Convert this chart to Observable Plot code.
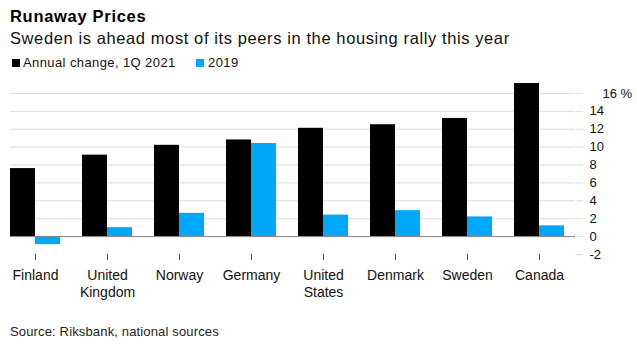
<!DOCTYPE html>
<html>
<head>
<meta charset="utf-8">
<script src="https://cdn.jsdelivr.net/npm/d3@7"></script>
<script src="https://cdn.jsdelivr.net/npm/@observablehq/plot@0.6"></script>
<style>
  html, body { margin: 0; padding: 0; background: #fff; }
  #wrap { position: relative; width: 637px; height: 349px; font-family: "Liberation Sans", Arial, sans-serif; color: #111; overflow: hidden; }
  .abs { position: absolute; white-space: nowrap; }
  #title { left: 10px; top: 8px; font-size: 16.5px; line-height: 16.5px; font-weight: bold; letter-spacing: 0.7px; color: #000; }
  #subtitle { left: 10px; top: 30px; font-size: 16.5px; line-height: 16.5px; letter-spacing: 0.6px; color: #111; }
  .sw { position: absolute; width: 8px; height: 8px; top: 59px; }
  .lt { font-size: 13px; line-height: 13px; top: 56px; letter-spacing: 0.4px; color: #111; }
  #source { left: 10px; top: 325px; font-size: 13px; line-height: 13px; letter-spacing: 0.15px; color: #222; }
  #chart { position: absolute; left: 0; top: 70px; }
</style>
</head>
<body>
<div id="wrap">
  <div id="title" class="abs">Runaway Prices</div>
  <div id="subtitle" class="abs">Sweden is ahead most of its peers in the housing rally this year</div>
  <div class="sw" style="left:12px;background:#000"></div>
  <div class="abs lt" style="left:23px">Annual change, 1Q 2021</div>
  <div class="sw" style="left:196px;background:#00a8f7"></div>
  <div class="abs lt" style="left:208px">2019</div>
  <div id="chart"></div>
  <div id="source" class="abs">Source: Riksbank, national sources</div>
</div>
<script>
const countries = ["Finland", "United Kingdom", "Norway", "Germany", "United States", "Denmark", "Sweden", "Canada"];
const countryLabels = ["Finland", "United\nKingdom", "Norway", "Germany", "United\nStates", "Denmark", "Sweden", "Canada"];
const annualChange = [7.6, 9.1, 10.2, 10.8, 12.1, 12.5, 13.2, 17.1];
const change2019 = [-0.9, 1.0, 2.6, 10.4, 2.4, 2.9, 2.2, 1.2];
const seriesNames = ["Annual change, 1Q 2021", "2019"];
const seriesColors = ["#000000", "#00a8f7"];
const yTicks = [-2, 0, 2, 4, 6, 8, 10, 12, 14, 16];
const gridValues = [2, 4, 6, 8, 10, 12, 14, 16];
const topTick = 16;

const W = 637, H = 240;
const mL = 10, mR = 62, mT = 5, mB = 56;

const xOpts = {type: "band", domain: countries, paddingInner: 0.311, paddingOuter: 0.048, align: 0};
const xs = Plot.scale({x: {...xOpts, range: [mL, W - mR]}});
const half = xs.bandwidth / 2;

const rows = countries.map((c, i) => ({country: c, label: countryLabels[i], a: annualChange[i], b: change2019[i]}));
const labelOf = new Map(rows.map(r => [r.country, r.label]));

const chart = Plot.plot({
  width: W, height: H,
  marginLeft: mL, marginRight: mR, marginTop: mT, marginBottom: mB,
  style: {fontFamily: "Liberation Sans, Arial, sans-serif", fontSize: "13px", color: "#111", background: "#fff"},
  x: xOpts,
  y: {domain: [-2, 18]},
  marks: [
    Plot.ruleY(gridValues, {stroke: "#dcdcdc", strokeWidth: 1}),
    Plot.barY(rows, {x: "country", y: "a", fill: seriesColors[0], insetRight: half, insetLeft: 0}),
    Plot.barY(rows, {x: "country", y: "b", fill: seriesColors[1], insetLeft: half, insetRight: 0}),
    Plot.ruleY([0], {stroke: "#808080", strokeWidth: 1}),
    Plot.axisX({tickSize: 6, tickPadding: 8, stroke: "#555", fill: "#111", fontSize: 14, lineHeight: 1.2, tickFormat: d => labelOf.get(d), label: null}),
    Plot.axisY({anchor: "right", ticks: yTicks, tickSize: 7, tickPadding: 7, stroke: "#dcdcdc", fill: "#111", fontSize: 13, tickFormat: d => d === topTick ? "" : String(d), label: null}),
    Plot.text([topTick], {y: d => d, text: d => `${d} %`, frameAnchor: "right", dx: 27, textAnchor: "start", fontSize: 13, fill: "#111"})
  ]
});
document.getElementById("chart").appendChild(chart);
</script>
</body>
</html>
